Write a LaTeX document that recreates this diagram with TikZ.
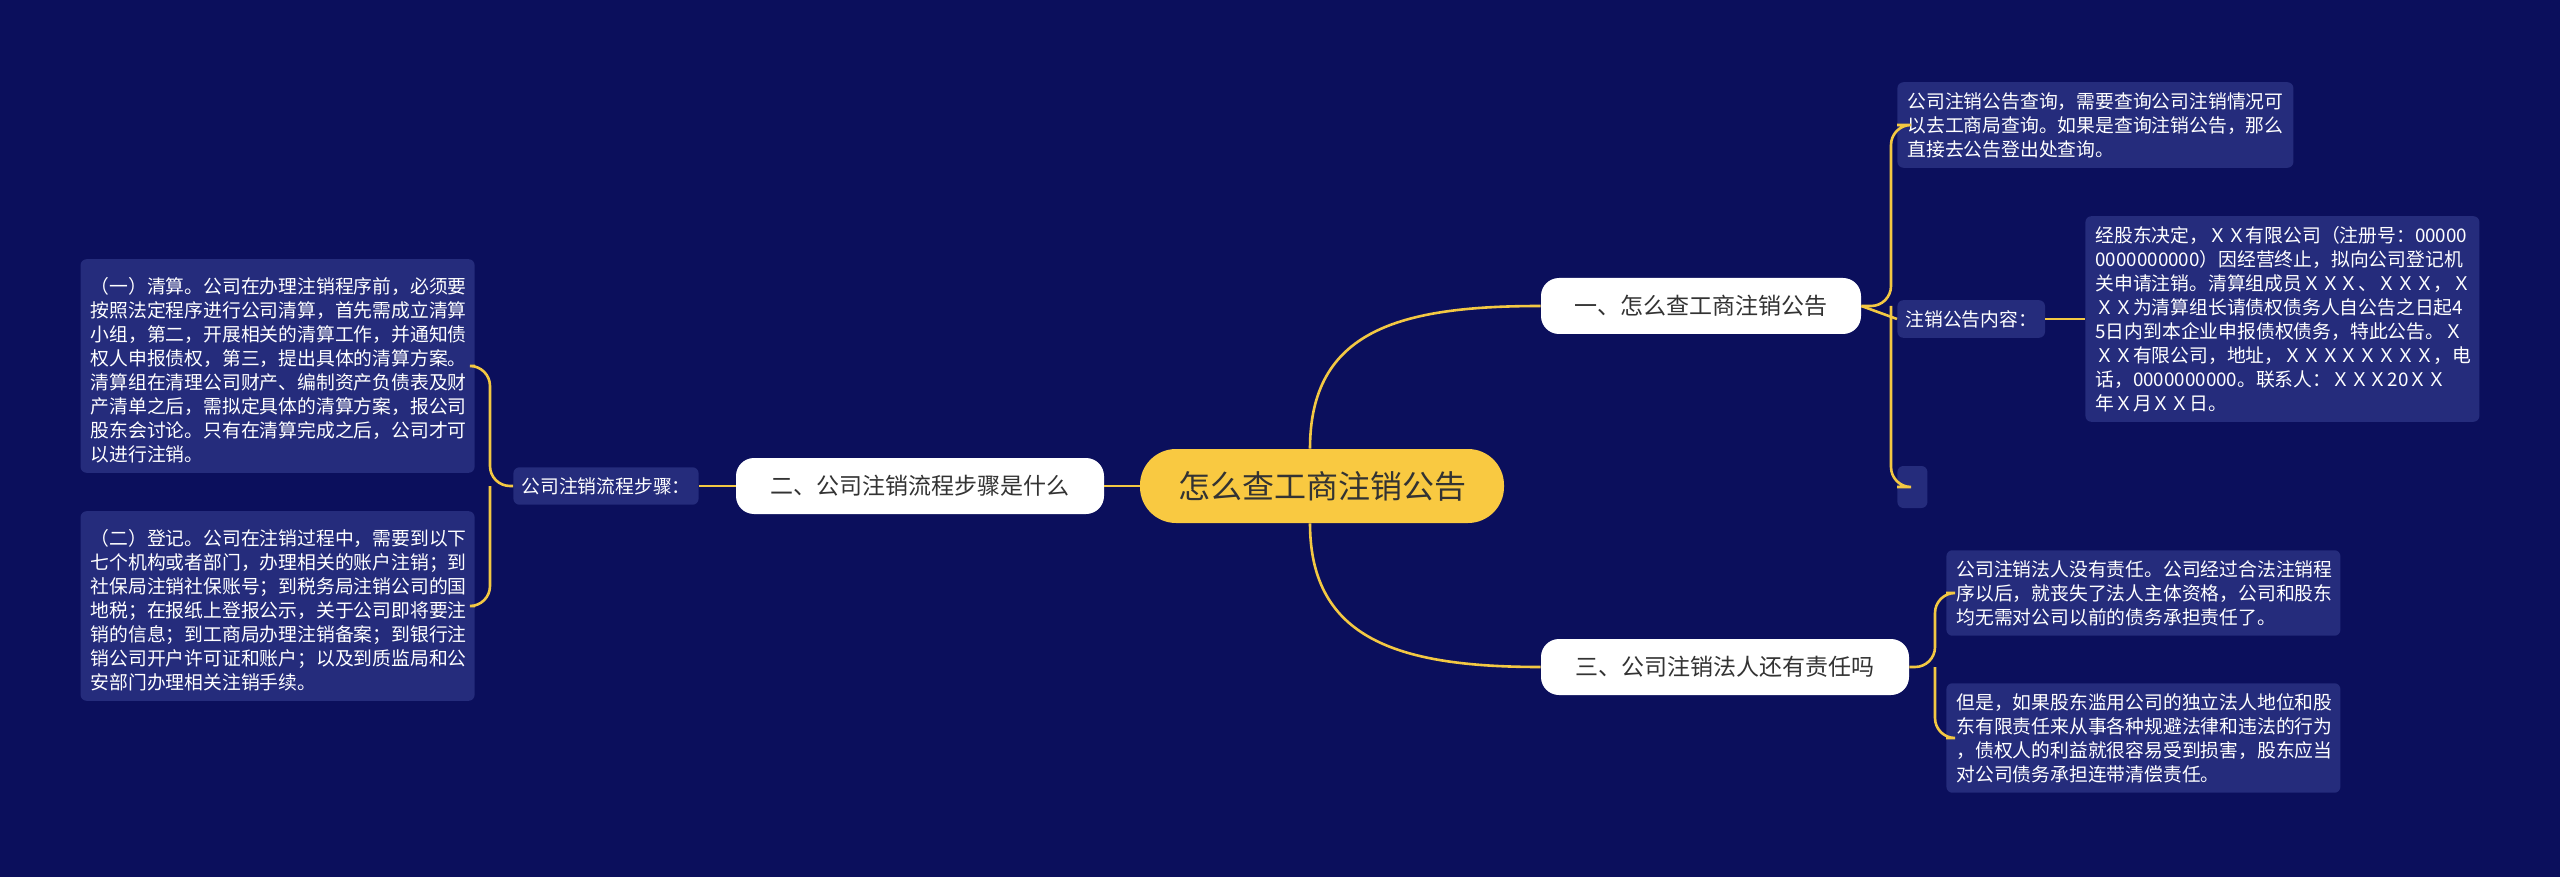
\documentclass[tikz,border=0pt]{standalone}
\usepackage{fontspec}
\setmainfont{Noto Sans CJK SC}
\begin{document}
\begin{tikzpicture}[x=0.5pt,y=-0.5pt,
  box/.style={fill=boxc,rounded corners=3pt,text=white,font=\fontsize{9.4}{12}\selectfont,align=left,inner xsep=5pt,inner ysep=5pt},
  topic/.style={fill=white,rounded corners=9pt,text=txt,font=\fontsize{11.5}{14}\selectfont,minimum height=28pt,inner xsep=8pt},
  link/.style={draw=linec,line width=1.3pt}]
\definecolor{bg}{HTML}{0B0F5C}
\definecolor{boxc}{HTML}{252C7C}
\definecolor{linec}{HTML}{F3C843}
\definecolor{cen}{HTML}{F9C941}
\definecolor{txt}{HTML}{333333}
\fill[bg] (0,0) rectangle (2560,877);
\useasboundingbox (0,0) rectangle (2560,877);

\node[fill=cen,rounded corners=18pt,minimum width=182pt,minimum height=37pt,text=txt,font=\fontsize{16}{18}\selectfont] (c) at (1322,486) {怎么查工商注销公告};
\node[topic,minimum width=160pt] (t1) at (1701,306) {一、怎么查工商注销公告};
\node[topic,minimum width=184pt] (t3) at (1725,667) {三、公司注销法人还有责任吗};
\node[topic,minimum width=184pt] (t2) at (920,486) {二、公司注销流程步骤是什么};

\node[box,anchor=west,text width=188pt] (a1) at (1897,125) {公司注销公告查询，需要查询公司注销情况可\\以去工商局查询。如果是查询注销公告，那么\\直接去公告登出处查询。};
\node[box,anchor=west,inner xsep=4pt] (a2) at (1897,319) {注销公告内容：};
\node[box,anchor=west,minimum width=15pt,minimum height=21pt,inner sep=0pt] (a3) at (1897,487) {};
\node[box,anchor=west,text width=187pt] (a4) at (2085,319) {经股东决定，ＸＸ有限公司（注册号：00000\\0000000000）因经营终止，拟向公司登记机\\关申请注销。清算组成员ＸＸＸ、ＸＸＸ，Ｘ\\ＸＸ为清算组长请债权债务人自公告之日起4\\5日内到本企业申报债权债务，特此公告。Ｘ\\ＸＸ有限公司，地址，ＸＸＸＸＸＸＸＸ，电\\话，0000000000。联系人：ＸＸＸ20ＸＸ\\年Ｘ月ＸＸ日。};

\node[box,anchor=west,text width=187pt] (b1) at (1946,593) {公司注销法人没有责任。公司经过合法注销程\\序以后，就丧失了法人主体资格，公司和股东\\均无需对公司以前的债务承担责任了。};
\node[box,anchor=west,text width=187pt] (b2) at (1946,738) {但是，如果股东滥用公司的独立法人地位和股\\东有限责任来从事各种规避法律和违法的行为\\，债权人的利益就很容易受到损害，股东应当\\对公司债务承担连带清偿责任。};

\node[box,anchor=east,inner xsep=4pt] (s) at (699,486) {公司注销流程步骤：};
\node[box,anchor=east,text width=187pt] (l1) at (475,366) {\hspace{0.5em}（一）清算。公司在办理注销程序前，必须要\\按照法定程序进行公司清算，首先需成立清算\\小组，第二，开展相关的清算工作，并通知债\\权人申报债权，第三，提出具体的清算方案。\\清算组在清理公司财产、编制资产负债表及财\\产清单之后，需拟定具体的清算方案，报公司\\股东会讨论。只有在清算完成之后，公司才可\\以进行注销。};
\node[box,anchor=east,text width=187pt] (l2) at (475,606) {\hspace{0.5em}（二）登记。公司在注销过程中，需要到以下\\七个机构或者部门，办理相关的账户注销；到\\社保局注销社保账号；到税务局注销公司的国\\地税；在报纸上登报公示，关于公司即将要注\\销的信息；到工商局办理注销备案；到银行注\\销公司开户许可证和账户；以及到质监局和公\\安部门办理相关注销手续。};

\draw[link] (c.north) ++(-12,0) coordinate (cn) .. controls (1310,330) and (1400,306) .. (t1.west);
\draw[link] (c.south) ++(-12,0) coordinate (cs) .. controls (1310,640) and (1400,667) .. (t3.west);
\draw[link] (c.west) -- (t2.east);
\draw[link] (t2.west) -- (s.east);

\draw[link,rounded corners=10pt] (t1.east) -- (1891,306) |- (a1.west);
\draw[link,rounded corners=10pt] (1891,306) |- (a3.west);
\draw[link] (t1.east) -- (a2.west);
\draw[link] (a2.east) -- (a4.west);

\draw[link,rounded corners=10pt] (t3.east) -- (1935,667) |- (b1.west);
\draw[link,rounded corners=10pt] (1935,667) |- (b2.west);

\draw[link,rounded corners=10pt] (s.west) -- (490,486) |- (l1.east);
\draw[link,rounded corners=10pt] (490,486) |- (l2.east);
\end{tikzpicture}
\end{document}
